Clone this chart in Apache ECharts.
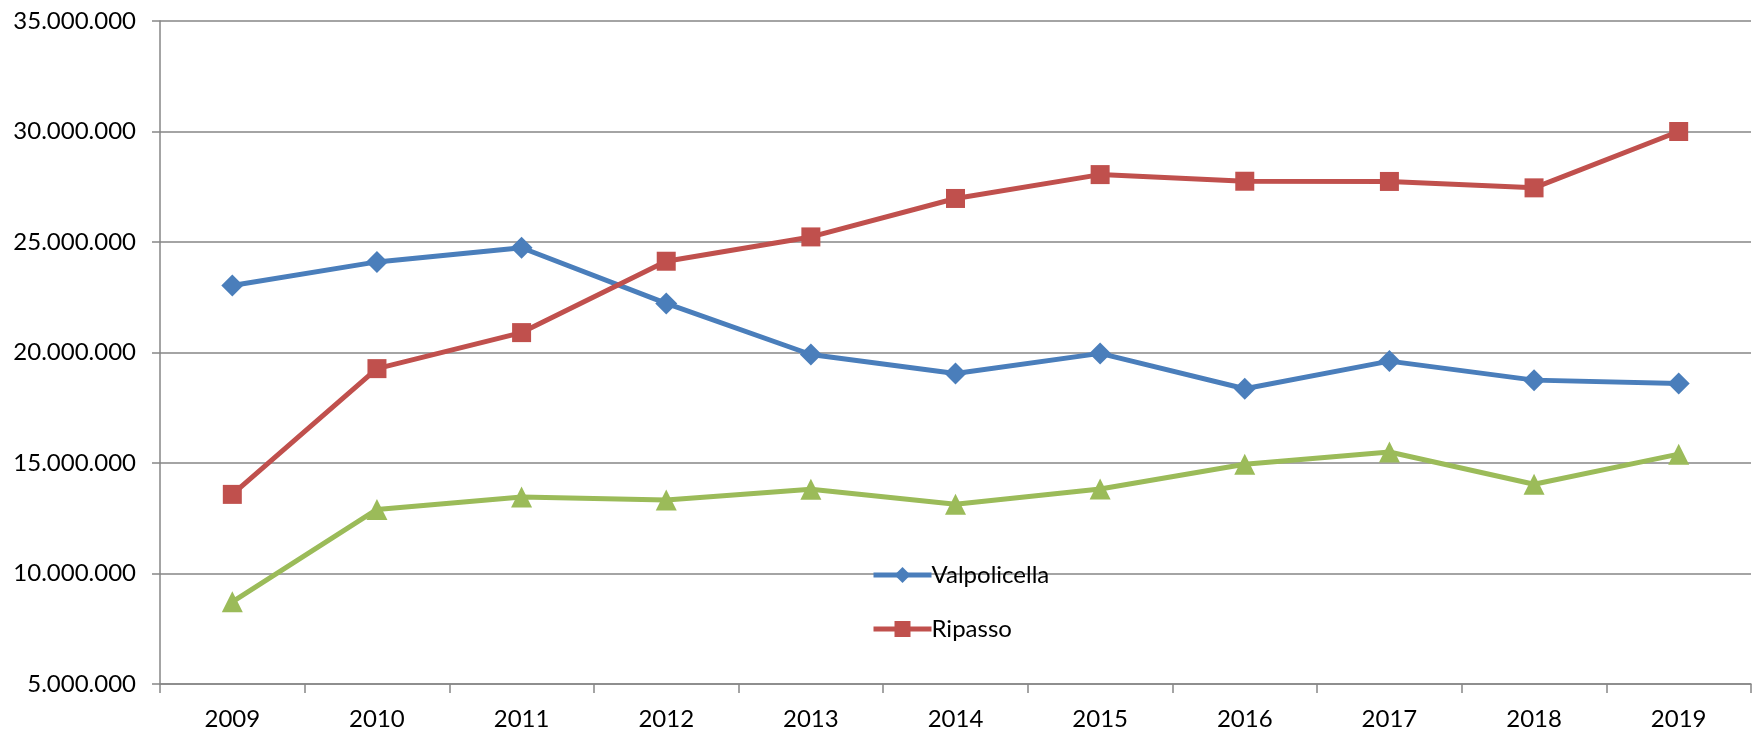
<!DOCTYPE html>
<html lang="it">
<head>
    <meta charset="UTF-8">
    <title>Valpolicella / Ripasso</title>
    <style>
        *{ margin: 0; padding: 0; }
        html, body{ width: 100%; height: 100%; background: #fff; }
        #main{ width: 1758px; height: 731px; }
    </style>
</head>
<body>
<div id="main"></div>
<script src="https://cdn.jsdelivr.net/npm/echarts@6/dist/echarts.min.js"></script>
<script type="text/javascript">
    // dati
    var anni = ['2009', '2010', '2011', '2012', '2013', '2014', '2015', '2016', '2017', '2018', '2019'];
    var valpolicella = [23030000, 24100000, 24740000, 22220000, 19910000, 19050000, 19960000, 18360000, 19610000, 18750000, 18600000];
    var ripasso = [13580000, 19270000, 20900000, 24130000, 25230000, 26970000, 28050000, 27750000, 27740000, 27450000, 30000000];
    var terza = [8720000, 12900000, 13460000, 13330000, 13810000, 13130000, 13820000, 14940000, 15500000, 14040000, 15400000];

    var fontName = 'Lato';
    var grigio = '#868686';

    function formatNum(v){
        return String(v).replace(/\B(?=(\d{3})+(?!\d))/g, '.');
    }

    function serie(nome, dati, colore, simbolo, size){
        return {
            name: nome,
            type: 'line',
            data: dati,
            symbol: simbolo,
            symbolSize: size,
            lineStyle: { width: 5, color: colore },
            itemStyle: { color: colore },
            emphasis: { disabled: true }
        };
    }

    var myChart = echarts.init(document.getElementById('main'));
    var option = {
        animation: false,
        backgroundColor: '#fff',
        textStyle: { fontFamily: fontName },
        grid: { left: 160, right: 7, top: 21, bottom: 46, containLabel: false },
        legend: {
            orient: 'vertical',
            left: 866,
            top: 558,
            itemWidth: 58,
            itemHeight: 20,
            itemGap: 30,
            lineStyle: { width: 5 },
            data: ['Valpolicella', 'Ripasso'],
            textStyle: { fontFamily: fontName, fontSize: 24, color: '#000', padding: [0, 0, 0, -5] }
        },
        xAxis: {
            type: 'category',
            data: anni,
            boundaryGap: true,
            axisLine: { lineStyle: { color: grigio, width: 1.5 } },
            axisTick: { show: true, length: 9, lineStyle: { color: grigio, width: 1.5 } },
            axisLabel: { color: '#000', fontFamily: fontName, fontSize: 24, margin: 23 },
            splitLine: { show: false }
        },
        yAxis: {
            type: 'value',
            min: 5000000,
            max: 35000000,
            interval: 5000000,
            axisLine: { show: true, lineStyle: { color: grigio, width: 1.5 } },
            axisTick: { show: true, length: 8, lineStyle: { color: grigio, width: 1.5 } },
            axisLabel: {
                color: '#000', fontFamily: fontName, fontSize: 24, margin: 24,
                formatter: function(v){ return formatNum(v); }
            },
            splitLine: { show: true, lineStyle: { color: grigio, width: 1.5 } }
        },
        series: [
            serie('Valpolicella', valpolicella, '#4A7EBB', 'diamond', 22),
            serie('Ripasso', ripasso, '#C0504D', 'rect', 19),
            serie('Amarone', terza, '#9BBB59', 'triangle', 21)
        ]
    };
    myChart.setOption(option);
</script>
</body>
</html>
